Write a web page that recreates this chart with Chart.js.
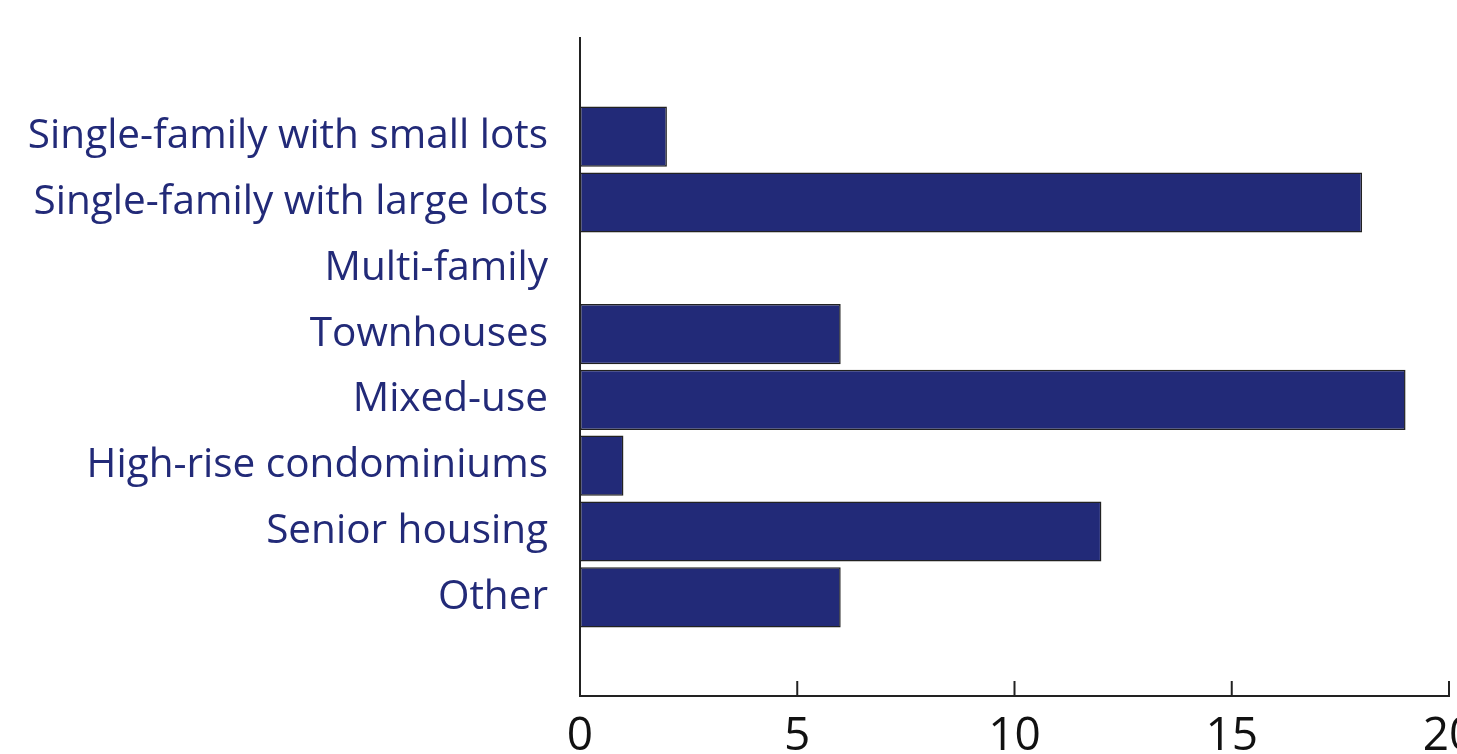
<!DOCTYPE html>
<html>
<head>
<meta charset="utf-8">
<script src="https://cdn.jsdelivr.net/npm/chart.js@4"></script>
<style>
  html, body { margin: 0; padding: 0; background: #fff; }
  #wrap { width: 1457px; height: 754px; }
</style>
</head>
<body>
<div id="wrap"><canvas id="chart"></canvas></div>
<script>
const categories = [
  'Single-family with small lots',
  'Single-family with large lots',
  'Multi-family',
  'Townhouses',
  'Mixed-use',
  'High-rise condominiums',
  'Senior housing',
  'Other',
]
const counts = [2, 18, 0, 6, 19, 1, 12, 6]
const xTicks = [0, 5, 10, 15, 20]

const navy = '#222a78'

// one empty slot above and below, like the original spacing
const labels = [''].concat(categories, [''])
const values = [null].concat(counts, [null])

const innerTicks = {
  id: 'innerTicks',
  afterDraw(chart) {
    const x = chart.scales.x
    const ctx = chart.ctx
    ctx.save()
    ctx.strokeStyle = '#222'
    ctx.lineWidth = 2
    xTicks.forEach((v) => {
      const px = x.getPixelForValue(v)
      ctx.beginPath()
      ctx.moveTo(px, x.top)
      ctx.lineTo(px, x.top - 15)
      ctx.stroke()
    })
    ctx.restore()
  },
}

// let labels run past the edges instead of shrinking the plot
const noEdgePad = (s) => {
  s.paddingLeft = 0
  s.paddingRight = 0
  s.paddingTop = 0
  s.paddingBottom = 0
}

new Chart(document.getElementById('chart'), {
  type: 'bar',
  data: {
    labels: labels,
    datasets: [{
      data: values,
      backgroundColor: navy,
      borderColor: '#222',
      borderWidth: 1.5,
      borderSkipped: false,
      barPercentage: 0.915,
      categoryPercentage: 1,
    }],
  },
  options: {
    indexAxis: 'y',
    responsive: true,
    maintainAspectRatio: false,
    animation: false,
    layout: { padding: { top: 38, right: 8, left: 0, bottom: 0 } },
    plugins: {
      legend: { display: false },
      tooltip: { enabled: false },
    },
    scales: {
      x: {
        min: 0,
        max: 20,
        afterBuildTicks: (s) => { s.ticks = xTicks.map((v) => ({ value: v })) },
        afterFit: (s) => { s.height = 58; noEdgePad(s) },
        grid: { display: false },
        border: { color: '#222', width: 2 },
        ticks: {
          color: '#111',
          padding: 5,
          font: { family: 'Open Sans', size: 46 },
        },
      },
      y: {
        afterFit: (s) => { s.width = 580; noEdgePad(s) },
        grid: { display: false },
        border: { color: '#222', width: 2 },
        ticks: {
          color: navy,
          padding: 24,
          font: { family: 'Open Sans', size: 40.5 },
        },
      },
    },
  },
  plugins: [innerTicks],
})
</script>
</body>
</html>
